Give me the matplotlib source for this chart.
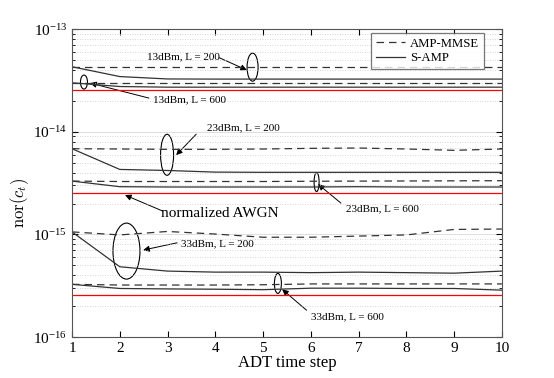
import numpy as np
import matplotlib
matplotlib.use('Agg')
import matplotlib.pyplot as plt
from matplotlib.patches import Ellipse, FancyArrowPatch
from matplotlib.ticker import NullFormatter
from matplotlib.transforms import ScaledTranslation

plt.rcParams['font.family'] = ['Liberation Serif', 'DejaVu Serif']
plt.rcParams['mathtext.fontset'] = 'stix'

# ---------------------------------------------------------------------------
# data
# ---------------------------------------------------------------------------
steps = np.arange(1, 11)

# 13 dBm
mmse_13_200 = [4.3e-14] * 10
samp_13_200 = [4.3e-14, 3.45e-14, 3.27e-14, 3.26e-14, 3.26e-14, 3.26e-14, 3.26e-14, 3.26e-14, 3.26e-14, 3.26e-14]
mmse_13_600 = [3.0e-14] * 10
samp_13_600 = [3.0e-14, 2.76e-14, 2.72e-14, 2.72e-14, 2.72e-14, 2.72e-14, 2.72e-14, 2.72e-14, 2.72e-14, 2.72e-14]
awgn_13 = 2.55e-14

# 23 dBm
mmse_23_200 = [6.84e-15, 6.8e-15, 6.75e-15, 6.75e-15, 6.8e-15, 6.9e-15, 6.95e-15, 6.8e-15, 6.6e-15, 6.8e-15]
samp_23_200 = [6.84e-15, 4.3e-15, 4.2e-15, 4.05e-15, 4.03e-15, 4.03e-15, 4.03e-15, 4.03e-15, 4.03e-15, 4.03e-15]
mmse_23_600 = [3.31e-15, 3.28e-15, 3.28e-15, 3.28e-15, 3.28e-15, 3.3e-15, 3.31e-15, 3.32e-15, 3.33e-15, 3.34e-15]
samp_23_600 = [3.31e-15, 2.92e-15, 2.9e-15, 2.9e-15, 2.9e-15, 2.9e-15, 2.92e-15, 2.9e-15, 2.9e-15, 2.9e-15]
awgn_23 = 2.55e-15

# 33 dBm
mmse_33_200 = [1.06e-15, 0.99e-15, 1.07e-15, 1.01e-15, 0.94e-15, 0.94e-15, 0.965e-15, 0.99e-15, 1.12e-15, 1.13e-15]
samp_33_200 = [1.06e-15, 4.85e-16, 4.4e-16, 4.3e-16, 4.3e-16, 4.25e-16, 4.3e-16, 4.25e-16, 4.2e-16, 4.4e-16]
mmse_33_600 = [3.27e-16, 3.22e-16, 3.22e-16, 3.22e-16, 3.24e-16, 3.3e-16, 3.3e-16, 3.3e-16, 3.3e-16, 3.3e-16]
samp_33_600 = [3.27e-16, 2.98e-16, 2.95e-16, 2.93e-16, 2.9e-16, 3.0e-16, 3.0e-16, 2.98e-16, 2.98e-16, 2.87e-16]
awgn_33 = 2.55e-16

# annotations: label, text pos, arrow start, arrow tip, ellipse centre, ellipse size (px)
notes = [
    ('13dBm, L = 200', (3.34, 5.34e-14), (4.08, 5.27e-14), (4.66, 3.99e-14), (4.78, 4.26e-14), (11, 28)),
    ('13dBm, L = 600', (3.45, 2.03e-14), (2.61, 2.13e-14), (1.38, 2.98e-14), (1.25, 3.05e-14), (7, 14)),
    ('23dBm, L = 200', (4.58, 1.09e-14), (3.60, 9.48e-15), (3.18, 5.93e-15), (2.99, 5.97e-15), (13, 41)),
    ('23dBm, L = 600', (7.50, 1.77e-15), (6.63, 2.02e-15), (6.15, 3.09e-15), (6.12, 3.24e-15), (5, 19)),
    ('33dBm, L = 200', (4.05, 8.05e-16), (3.20, 8.3e-16), (2.49, 7.05e-16), (2.14, 6.89e-16), (27, 56)),
    ('33dBm, L = 600', (6.76, 1.57e-16), (5.91, 1.83e-16), (5.40, 2.92e-16), (5.31, 3.34e-16), (7, 20)),
]
awgn_note = ('normalized AWGN', (4.10, 1.61e-15), (2.90, 1.69e-15), (2.11, 2.42e-15))

# ---------------------------------------------------------------------------
# plot
# ---------------------------------------------------------------------------
fig = plt.figure(figsize=(5.54, 3.78), dpi=100)
ax = fig.add_axes([0.130, 0.108, 0.776, 0.815])

dash = dict(color='#333333', lw=0.9, ls=(0, (6, 4)))
solid = dict(color='#333333', lw=0.9, ls='-')

ax.plot(steps, mmse_13_200, label='AMP-MMSE', **dash)
ax.plot(steps, samp_13_200, label='S-AMP', **solid)
for m, s in [(mmse_13_600, samp_13_600), (mmse_23_200, samp_23_200),
             (mmse_23_600, samp_23_600), (mmse_33_200, samp_33_200),
             (mmse_33_600, samp_33_600)]:
    ax.plot(steps, m, **dash)
    ax.plot(steps, s, **solid)
for a in [awgn_13, awgn_23, awgn_33]:
    ax.plot(steps, [a] * len(steps), color='red', lw=0.9)

ax.set_yscale('log')
ax.set_xlim(1, 10)
ax.set_ylim(1e-16, 1e-13)
ax.set_xticks(steps)
ax.yaxis.set_minor_formatter(NullFormatter())
ax.tick_params(which='both', direction='in', top=True, right=True, labelsize=11)
ax.tick_params(which='major', length=4)
ax.tick_params(which='minor', length=2)
ax.tick_params(axis='x', which='minor', top=False, bottom=False)
ax.yaxis.grid(True, which='major', color='#d8d8d8', lw=0.6, ls='-')
ax.yaxis.grid(True, which='minor', color='#c8c8c8', lw=0.6, ls=(0, (1, 2)))
for sp in ax.spines.values():
    sp.set_color('#555555')
    sp.set_linewidth(0.8)

ax.set_xlabel('ADT time step', fontsize=12, labelpad=0)
ax.set_ylabel(r'$\mathrm{nor}(c_t)$', fontsize=12, math_fontfamily='cm')
ax.yaxis.set_label_coords(-0.095, 0.435)

leg = ax.legend(loc='upper right', fontsize=9.2, frameon=True, fancybox=False,
                handlelength=2.3, handletextpad=0.4, borderaxespad=0,
                labelspacing=0.2, borderpad=0.35, bbox_to_anchor=(0.958, 0.987))
leg.get_frame().set_edgecolor('#555555')
leg.get_frame().set_linewidth(0.9)


def draw_arrow(start, tip):
    ax.add_patch(FancyArrowPatch(start, tip, arrowstyle='-|>', color='black',
                                 lw=0.7, mutation_scale=9, shrinkA=0, shrinkB=0))


for label, tpos, start, tip, centre, size in notes:
    ax.text(tpos[0], tpos[1], label, fontsize=8, ha='center', va='center')
    draw_arrow(start, tip)
    tr = fig.dpi_scale_trans + ScaledTranslation(centre[0], centre[1], ax.transData)
    ax.add_patch(Ellipse((0, 0), size[0] / 100, size[1] / 100, transform=tr,
                         fill=False, ec='black', lw=0.8, clip_on=False))

label, tpos, start, tip = awgn_note
ax.text(tpos[0], tpos[1], label, fontsize=11, ha='center', va='center')
draw_arrow(start, tip)

fig.savefig('out.png', dpi=100)
